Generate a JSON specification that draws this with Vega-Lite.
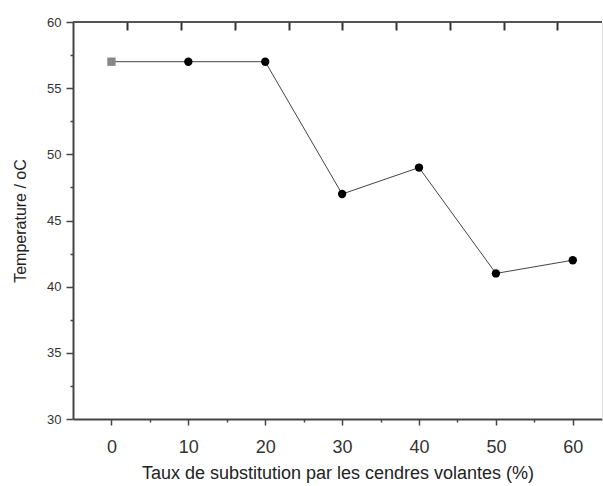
{
  "$schema": "https://vega.github.io/schema/vega-lite/v6.json",
  "autosize": "none",
  "width": 529,
  "height": 397,
  "padding": {"left": 73, "top": 22, "right": 1, "bottom": 67},
  "background": "white",
  "view": {"stroke": "#555", "strokeWidth": 2, "strokeDash": [529, 3000]},
  "config": {
    "font": "Liberation Sans",
    "axis": {"grid": false, "labelFont": "Liberation Sans", "titleFont": "Liberation Sans", "titleFontWeight": "normal", "labelColor": "#333", "titleColor": "#222", "domainColor": "#444", "tickColor": "#444"}
  },
  "data": {"values": [
    {"taux": 0, "temperature": 57},
    {"taux": 10, "temperature": 57},
    {"taux": 20, "temperature": 57},
    {"taux": 30, "temperature": 47},
    {"taux": 40, "temperature": 49},
    {"taux": 50, "temperature": 41},
    {"taux": 60, "temperature": 42}
  ]},
  "layer": [
    {
      "mark": {"type": "line", "color": "#444", "strokeWidth": 1},
      "encoding": {
        "x": {"field": "taux", "type": "quantitative", "scale": {"domain": [-5, 63.8], "nice": false, "zero": false},
          "title": "Taux de substitution par les cendres volantes (%)",
          "axis": {"orient": "bottom", "values": [0, 5, 10, 15, 20, 25, 30, 35, 40, 45, 50, 55, 60],
            "labelExpr": "datum.value % 10 === 0 ? datum.label : ''",
            "tickSize": {"condition": {"test": "datum.value % 10 !== 0", "value": 3}, "value": 6},
            "domainWidth": 2, "tickWidth": 1.5, "labelFontSize": 18, "labelPadding": 13, "titleFontSize": 18, "titlePadding": 8}},
        "y": {"field": "temperature", "type": "quantitative", "scale": {"domain": [30, 60], "nice": false, "zero": false},
          "title": "Temperature / oC",
          "axis": {"orient": "left", "values": [30, 32.5, 35, 37.5, 40, 42.5, 45, 47.5, 50, 52.5, 55, 57.5, 60],
            "labelExpr": "datum.value % 5 === 0 ? datum.label : ''",
            "tickSize": {"condition": {"test": "datum.value % 5 !== 0", "value": 3}, "value": 7},
            "domainWidth": 2, "tickWidth": 1.5, "labelFontSize": 13, "labelPadding": 5, "titleFontSize": 16, "titlePadding": 18}}
      }
    },
    {
      "mark": {"type": "point", "filled": true, "size": 70, "opacity": 1},
      "encoding": {
        "x": {"field": "taux", "type": "quantitative",
          "axis": {"orient": "top", "offset": -8, "values": [2.08, 9.07, 16.06, 23.05, 30.04, 37.03, 44.02, 51.01, 58.0], "labels": false, "title": null,
            "ticks": true, "tickSize": 8, "tickWidth": 2, "tickColor": "#333", "domain": true, "domainOpacity": 0}},
        "y": {"field": "temperature", "type": "quantitative",
          "axis": {"orient": "right", "labels": false, "ticks": false, "title": null, "domainWidth": 1, "domainColor": "#e2e2e2"}},
        "color": {"condition": {"test": "datum.taux === 0", "value": "#888"}, "value": "#000"},
        "shape": {"condition": {"test": "datum.taux === 0", "value": "square"}, "value": "circle"}
      }
    }
  ]
}
